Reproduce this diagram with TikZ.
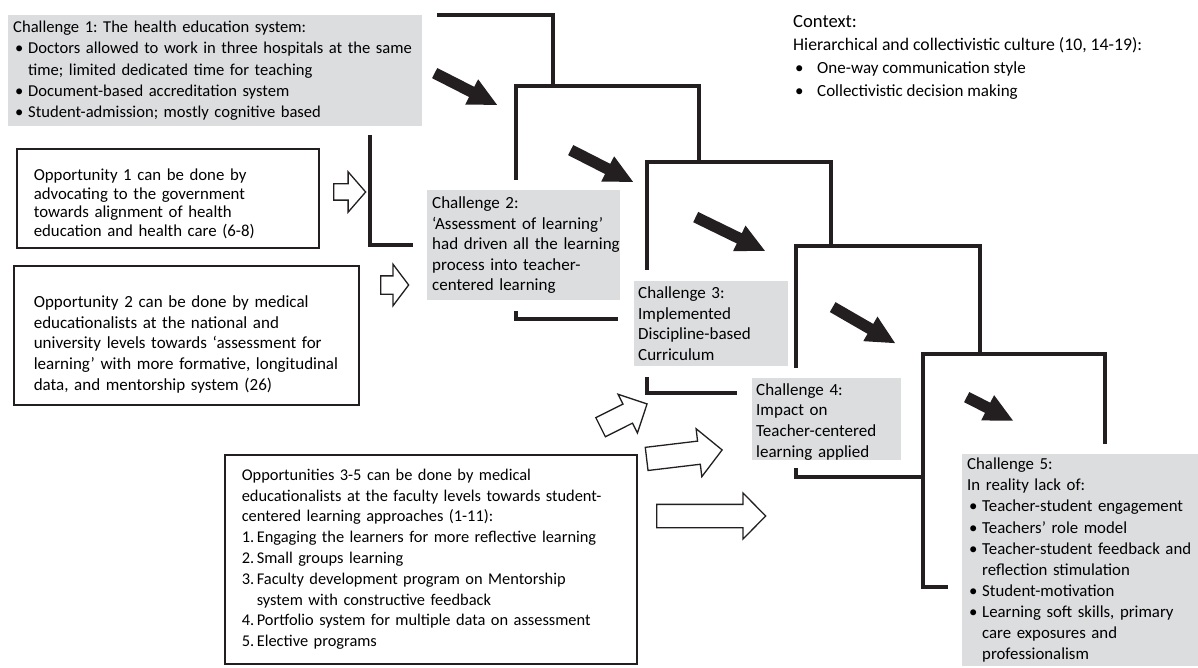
\documentclass[tikz,border=0pt]{standalone}
\usepackage{fontspec}
\setmainfont{Carlito}
\usepackage{tikz}
\usetikzlibrary{shapes.arrows}

\definecolor{chgray}{RGB}{220,221,223}
\definecolor{lineblack}{RGB}{35,31,32}

\frenchspacing
\hyphenpenalty=10000
\exhyphenpenalty=10000

\newcommand{\bul}{\makebox[15pt][l]{\hspace{2pt}\textbullet}}
\newcommand{\bulc}{\makebox[24pt][l]{\hspace{2pt}\textbullet}}
\newcommand{\indt}{\hspace*{15pt}}
\newcommand{\numi}[1]{\makebox[15pt][l]{#1}}
\newcommand{\toppad}[1]{\rule{0pt}{#1}}

\tikzset{
  chbox/.style={fill=chgray, align=left, anchor=north west, inner ysep=0pt,
    font=\fontsize{17}{20.6}\selectfont},
  oppbox/.style={draw=lineblack, line width=1.6pt, fill=white, align=left,
    anchor=north west, inner ysep=0pt, font=\fontsize{17}{20.6}\selectfont},
  frame/.style={line width=4.5pt, draw=lineblack},
  blkarrow/.style={single arrow, fill=lineblack, inner xsep=0pt, inner ysep=5.5pt,
    anchor=tail, minimum width=28pt, single arrow head extend=8.5pt,
    single arrow tip angle=53},
  holarrow/.style={single arrow, draw=lineblack, line width=1.3pt, fill=white,
    inner xsep=0pt, anchor=tail}
}

\begin{document}
\begin{tikzpicture}[x=1pt,y=-1pt]
  \useasboundingbox (0,0) rectangle (1198,668);

  % the stairs
  \draw[frame] (437,15) -- (553,15) -- (553,86);
  \draw[frame] (516,180) -- (516,86) -- (699,86) -- (699,162);
  \draw[frame] (647,270) -- (647,162) -- (831,162) -- (831,246);
  \draw[frame] (796,368) -- (796,246) -- (980,246) -- (980,354);
  \draw[frame] (1105,444) -- (1105,354) -- (923,354) -- (923,587) -- (948,587);

  % the feet under the challenges
  \draw[frame] (370,135) -- (370,245) -- (413,245);
  \draw[frame] (516,311) -- (516,319) -- (618,319);
  \draw[frame] (647,377) -- (647,393) -- (737,393);
  \draw[frame] (796,468) -- (796,477) -- (923,477);

  % challenges
  \node[chbox, inner xsep=5pt, text width=404pt, minimum height=111pt,
    font=\fontsize{16.6}{21.2}\selectfont] (ch1) at (8,15)
    {Challenge 1: The health education system:\\
     \bul\mbox{Doctors allowed to work in three hospitals at the same}\\
     \indt time; limited dedicated time for teaching\\
     \bul Document-based accreditation system\\
     \bul Student-admission; mostly cognitive based};
  \node[chbox, inner xsep=5pt, text width=183pt, minimum height=110pt] (ch2) at (427,190)
    {Challenge 2:\\
     \mbox{‘Assessment of learning’}\\
     \mbox{had driven all the learning}\\
     process into teacher-\\
     centered learning};
  \node[chbox, inner xsep=4pt, text width=146pt, minimum height=85pt] (ch3) at (634,281)
    {Challenge 3:\\
     Implemented\\
     Discipline-based\\
     Curriculum};
  \node[chbox, inner xsep=4pt, text width=141pt, minimum height=80pt] (ch4) at (752,378)
    {\toppad{17pt}Challenge 4:\\
     Impact on\\
     \mbox{Teacher-centered}\\
     learning applied};
  \node[chbox, inner xsep=5pt, text width=226pt, minimum height=212pt,
    font=\fontsize{16.8}{21.1}\selectfont] (ch5) at (962,454)
    {Challenge 5:\\
     In reality lack of:\\
     \bul\mbox{Teacher-student engagement}\\
     \bul Teachers’ role model\\
     \bul\mbox{Teacher-student feedback and}\\
     \indt reflection stimulation\\
     \bul Student-motivation\\
     \bul\mbox{Learning soft skills, primary}\\
     \indt care exposures and\\
     \indt professionalism};

  % opportunities
  \node[oppbox, inner xsep=17pt, text width=268pt, minimum height=99pt,
    font=\fontsize{16.8}{18.6}\selectfont] (op1) at (16,148)
    {\toppad{22.5pt}Opportunity 1 can be done by\\
     advocating to the government\\
     towards alignment of health\\
     \mbox{education and health care (6-8)}};
  \node[oppbox, inner xsep=20pt, text width=305pt, minimum height=139pt] (op2) at (13,265)
    {\toppad{30pt}Opportunity 2 can be done by medical\\
     educationalists at the national and\\
     \mbox{university levels towards ‘assessment for}\\
     \mbox{learning’ with more formative, longitudinal}\\
     data, and mentorship system (26)};
  \node[oppbox, inner xsep=17pt, text width=378pt, minimum height=209pt,
    font=\fontsize{16.4}{20.8}\selectfont] (op3) at (224,454)
    {Opportunities 3-5 can be done by medical\\
     \mbox{educationalists at the faculty levels towards student-}\\
     centered learning approaches (1-11):\\
     \numi{1.}\mbox{Engaging the learners for more reflective learning}\\
     \numi{2.}Small groups learning\\
     \numi{3.}\mbox{Faculty development program on Mentorship}\\
     \indt system with constructive feedback\\
     \numi{4.}\mbox{Portfolio system for multiple data on assessment}\\
     \numi{5.}Elective programs};

  % context
  \node[align=left, anchor=north west, inner sep=0pt,
    font=\fontsize{17}{23}\selectfont] (ctx) at (793,15)
    {{\fontsize{18.6}{23}\selectfont Context:}\\
     {\fontsize{17.7}{23}\selectfont Hierarchical and collectivistic culture (10, 14-19):}\\
     \bulc One-way communication style\\
     \bulc Collectivistic decision making};

  % black arrows down the stairs
  \node[blkarrow, minimum height=70pt, rotate=-27] (ar1) at (434.5,73) {};
  \node[blkarrow, minimum height=70pt, rotate=-27] (ar2) at (570.5,150) {};
  \node[blkarrow, minimum height=77pt, rotate=-26] (ar3) at (695.5,217) {};
  \node[blkarrow, minimum height=72pt, rotate=-30] (ar4) at (832.5,307) {};
  \node[blkarrow, minimum height=52pt, rotate=-27] (ar5) at (966.5,397) {};

  % hollow arrows from the opportunities
  \node[holarrow, inner ysep=7.5pt, minimum height=32pt, minimum width=39pt,
    single arrow head extend=12pt, single arrow tip angle=98] (ha1) at (333,192) {};
  \node[holarrow, inner ysep=8.5pt, minimum height=28pt, minimum width=40pt,
    single arrow head extend=11.5pt, single arrow tip angle=106] (ha2) at (380,285) {};
  \node[holarrow, inner ysep=10pt, minimum height=52pt, minimum width=42pt,
    single arrow head extend=11pt, single arrow tip angle=90, rotate=26.6] (ha3) at (600,427.5) {};
  \node[holarrow, inner ysep=11pt, minimum height=76pt, minimum width=47pt,
    single arrow head extend=12.5pt, single arrow tip angle=92, rotate=6.8] (ha4) at (646,459) {};
  \node[holarrow, inner ysep=11pt, minimum height=109pt, minimum width=45pt,
    single arrow head extend=11.5pt, single arrow tip angle=91] (ha5) at (656,516) {};
\end{tikzpicture}
\end{document}
